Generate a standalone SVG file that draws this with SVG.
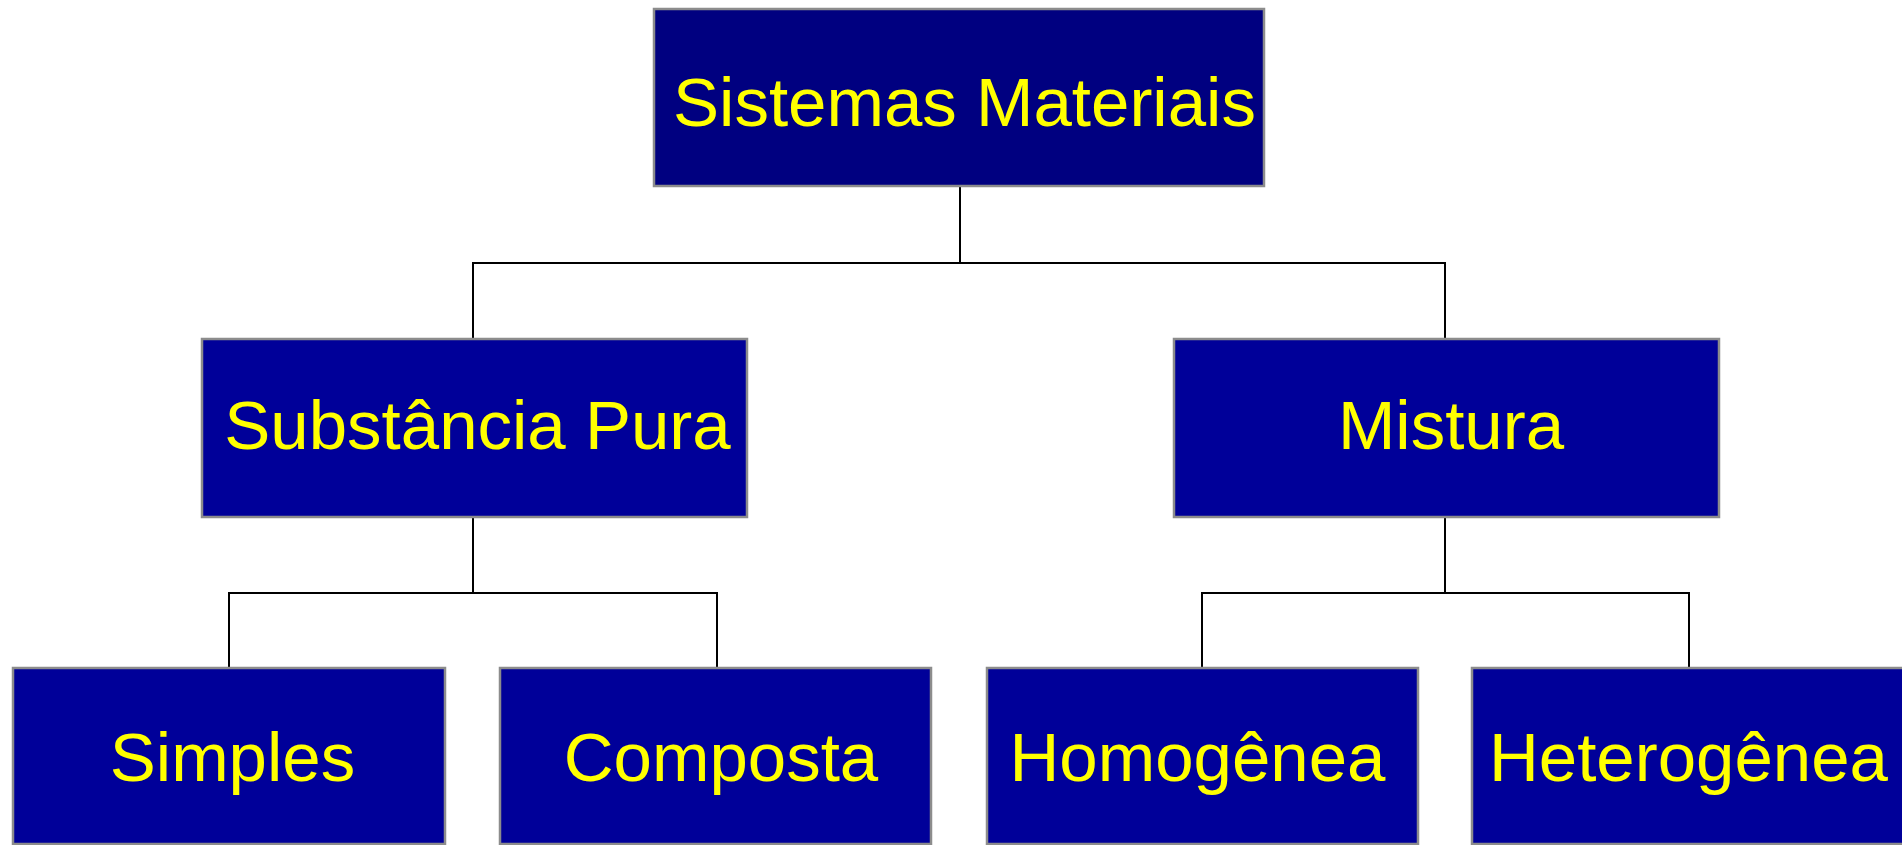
<svg xmlns="http://www.w3.org/2000/svg" width="1902" height="845" viewBox="0 0 1902 845">
<style>
.box{fill:#000099;stroke:#8c8c8c;stroke-width:2.5}
.root{fill:#000080}
.lbl{fill:#ffff00;font-family:"Liberation Sans",Arial,sans-serif;font-size:69px;text-anchor:middle}
.con{fill:none;stroke:#000;stroke-width:2}
</style>
<rect width="1902" height="845" fill="#fff"/>
<g id="connectors">
<path class="con" d="M960,186 V263 M473,339 V263 H1445 V339"/>
<path class="con" d="M473,517 V593 M229,668 V593 H717 V668"/>
<path class="con" d="M1445,517 V593 M1202,668 V593 H1689 V668"/>
</g>
<g id="sistemas-materiais">
<rect class="box root" x="654" y="9" width="610" height="177"/>
<text class="lbl" x="964.5" y="126">Sistemas Materiais</text>
</g>
<g id="substancia-pura">
<rect class="box" x="202" y="339" width="545" height="178"/>
<text class="lbl" x="477.5" y="449">Substância Pura</text>
</g>
<g id="mistura">
<rect class="box" x="1174" y="339" width="545" height="178"/>
<text class="lbl" x="1451" y="449">Mistura</text>
</g>
<g id="simples">
<rect class="box" x="13" y="668" width="432" height="176"/>
<text class="lbl" x="232.5" y="781">Simples</text>
</g>
<g id="composta">
<rect class="box" x="500" y="668" width="431" height="176"/>
<text class="lbl" x="721" y="781">Composta</text>
</g>
<g id="homogenea">
<rect class="box" x="987" y="668" width="431" height="176"/>
<text class="lbl" x="1197.5" y="781">Homogênea</text>
</g>
<g id="heterogenea">
<rect class="box" x="1472" y="668" width="432" height="176"/>
<text class="lbl" x="1688.5" y="781">Heterogênea</text>
</g>
</svg>
